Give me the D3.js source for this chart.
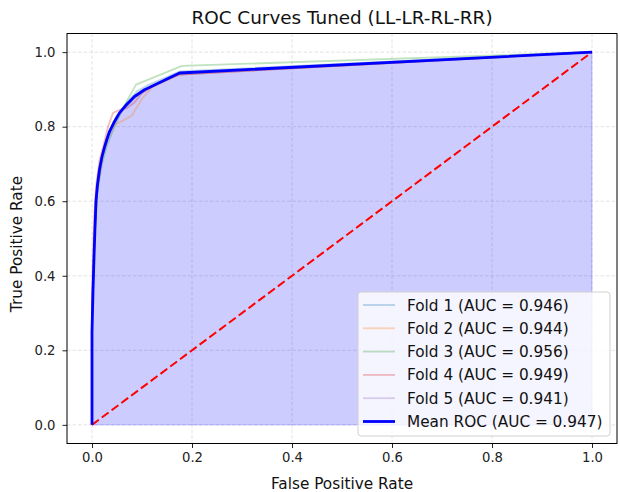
<!DOCTYPE html>
<html>
<head>
<meta charset="utf-8">
<script src="https://cdn.jsdelivr.net/npm/d3@7"></script>
<style>
  html, body { margin: 0; padding: 0; background: #fff; }
  svg { display: block; font-family: "DejaVu Sans", sans-serif; }
</style>
</head>
<body>
<svg id="chart" width="620" height="492"></svg>
<script>
// ---- data ----
const title = "ROC Curves Tuned (LL-LR-RL-RR)";
const xLabel = "False Positive Rate";
const yLabel = "True Positive Rate";
const tickValues = [0, 0.2, 0.4, 0.6, 0.8, 1.0];

const foldNames = ["Fold 1", "Fold 2", "Fold 3", "Fold 4", "Fold 5"];
const foldAUC = [0.946, 0.944, 0.956, 0.949, 0.941];
const foldColors = ["#1f77b4", "#ff7f0e", "#2ca02c", "#d62728", "#9467bd"];

const fold1Fpr = [0, 0, 0.004, 0.008, 0.015, 0.025, 0.035, 0.05, 0.07, 0.09, 0.11, 0.175, 1];
const fold1Tpr = [0, 0.3, 0.47, 0.61, 0.69, 0.75, 0.79, 0.83, 0.865, 0.895, 0.91, 0.948, 1];
const fold2Fpr = [0, 0, 0.005, 0.01, 0.02, 0.03, 0.045, 0.06, 0.08, 0.1, 0.12, 0.175, 1];
const fold2Tpr = [0, 0.28, 0.5, 0.62, 0.71, 0.77, 0.805, 0.815, 0.83, 0.875, 0.905, 0.94, 1];
const fold3Fpr = [0, 0, 0.005, 0.01, 0.02, 0.03, 0.042, 0.06, 0.088, 0.11, 0.18, 1];
const fold3Tpr = [0, 0.3, 0.5, 0.62, 0.7, 0.75, 0.79, 0.845, 0.913, 0.925, 0.963, 1];
const fold4Fpr = [0, 0, 0.004, 0.008, 0.015, 0.022, 0.032, 0.042, 0.055, 0.07, 0.085, 0.1, 0.13, 0.175, 1];
const fold4Tpr = [0, 0.35, 0.55, 0.64, 0.71, 0.745, 0.8, 0.837, 0.845, 0.85, 0.865, 0.89, 0.915, 0.94, 1];
const fold5Fpr = [0, 0, 0.005, 0.01, 0.02, 0.03, 0.045, 0.06, 0.08, 0.1, 0.13, 0.175, 1];
const fold5Tpr = [0, 0.27, 0.5, 0.63, 0.715, 0.76, 0.81, 0.84, 0.87, 0.893, 0.915, 0.94, 1];

const meanFpr = [0, 0, 0.002, 0.004, 0.006, 0.008, 0.011, 0.015, 0.02, 0.025, 0.03, 0.035, 0.045, 0.055, 0.069, 0.085, 0.105, 0.125, 0.15, 0.175, 1];
const meanTpr = [0, 0.25, 0.36, 0.45, 0.53, 0.6, 0.645, 0.685, 0.72, 0.745, 0.767, 0.787, 0.814, 0.837, 0.859, 0.881, 0.899, 0.912, 0.928, 0.944, 1];
const meanAUC = 0.947;
const chanceX = [0, 1];
const chanceY = [0, 1];

// ---- layout ----
const svg = d3.select("#chart");
const plot = { left: 67, right: 617, top: 33.5, bottom: 443.5 };
const x = d3.scaleLinear().domain([-0.05, 1.05]).range([plot.left, plot.right]);
const y = d3.scaleLinear().domain([-0.05, 1.05]).range([plot.bottom, plot.top]);

const zip = (a, b) => a.map((v, i) => [v, b[i]]);
const line = d3.line().x(d => x(d[0])).y(d => y(d[1]));

// grid
const grid = svg.append("g");
tickValues.forEach(t => {
  grid.append("line").attr("x1", x(t)).attr("x2", x(t)).attr("y1", plot.top).attr("y2", plot.bottom)
    .attr("stroke", "#b0b0b0").attr("stroke-opacity", 0.45).attr("stroke-width", 0.8).attr("stroke-dasharray", "3.5,2");
  grid.append("line").attr("y1", y(t)).attr("y2", y(t)).attr("x1", plot.left).attr("x2", plot.right)
    .attr("stroke", "#b0b0b0").attr("stroke-opacity", 0.45).attr("stroke-width", 0.8).attr("stroke-dasharray", "3.5,2");
});

// fill under mean
const meanPts = zip(meanFpr, meanTpr);
const area = d3.area().x(d => x(d[0])).y0(y(0)).y1(d => y(d[1]));
svg.append("path").datum(meanPts).attr("d", area)
  .attr("fill", "blue").attr("fill-opacity", 0.2)
  .attr("stroke", "blue").attr("stroke-opacity", 0.2).attr("stroke-width", 1);

// fold curves
const foldData = [zip(fold1Fpr, fold1Tpr), zip(fold2Fpr, fold2Tpr), zip(fold3Fpr, fold3Tpr), zip(fold4Fpr, fold4Tpr), zip(fold5Fpr, fold5Tpr)];
foldData.forEach((pts, i) => {
  svg.append("path").datum(pts).attr("d", line)
    .attr("fill", "none").attr("stroke", foldColors[i]).attr("stroke-opacity", 0.3)
    .attr("stroke-width", 1.8).attr("stroke-linejoin", "round");
});

// chance diagonal
svg.append("path").datum(zip(chanceX, chanceY)).attr("d", line)
  .attr("fill", "none").attr("stroke", "red").attr("stroke-width", 2)
  .attr("stroke-dasharray", "8.5,3.7");

// mean ROC
svg.append("path").datum(meanPts).attr("d", line)
  .attr("fill", "none").attr("stroke", "blue").attr("stroke-width", 2.8)
  .attr("stroke-linejoin", "round");

// axes
const xAxis = d3.axisBottom(x).tickValues(tickValues).tickFormat(d3.format(".1f")).tickSize(4.5).tickPadding(5);
const yAxis = d3.axisLeft(y).tickValues(tickValues).tickFormat(d3.format(".1f")).tickSize(4.5).tickPadding(7);
const gx = svg.append("g").attr("transform", `translate(0,${plot.bottom})`).call(xAxis);
const gy = svg.append("g").attr("transform", `translate(${plot.left},0)`).call(yAxis);
[gx, gy].forEach(g => {
  g.select(".domain").remove();
  g.selectAll("text").attr("font-family", "DejaVu Sans").attr("font-size", 13.2).attr("fill", "#222");
  g.selectAll("line").attr("stroke", "#222").attr("stroke-width", 1);
});

// frame
svg.append("rect").attr("x", plot.left).attr("y", plot.top)
  .attr("width", plot.right - plot.left).attr("height", plot.bottom - plot.top)
  .attr("fill", "none").attr("stroke", "#000").attr("stroke-width", 1);

// labels
svg.append("text").attr("x", (plot.left + plot.right) / 2).attr("y", 24)
  .attr("text-anchor", "middle").attr("font-size", 18.4).attr("fill", "#111").text(title);
svg.append("text").attr("x", (plot.left + plot.right) / 2).attr("y", 489)
  .attr("text-anchor", "middle").attr("font-size", 15.3).attr("fill", "#111").text(xLabel);
svg.append("text").attr("transform", `translate(21.5,244) rotate(-90)`)
  .attr("text-anchor", "middle").attr("font-size", 15.3).attr("fill", "#111").text(yLabel);

// legend
const legendItems = foldNames.map((n, i) => ({ label: `${n} (AUC = ${foldAUC[i].toFixed(3)})`, color: foldColors[i], op: 0.3, w: 1.8 }));
legendItems.push({ label: `Mean ROC (AUC = ${meanAUC.toFixed(3)})`, color: "blue", op: 1, w: 2.8 });
const lg = svg.append("g");
lg.append("rect").attr("x", 358).attr("y", 292).attr("width", 252).attr("height", 144)
  .attr("rx", 3).attr("fill", "#fff").attr("fill-opacity", 0.8)
  .attr("stroke", "#d0d0d0").attr("stroke-width", 1);
legendItems.forEach((it, i) => {
  const cy = 305 + i * 23.3;
  lg.append("line").attr("x1", 363).attr("x2", 395).attr("y1", cy).attr("y2", cy)
    .attr("stroke", it.color).attr("stroke-opacity", it.op).attr("stroke-width", it.w);
  lg.append("text").attr("x", 407).attr("y", cy).attr("dy", "0.36em")
    .attr("font-size", 15.3).attr("fill", "#111").text(it.label);
});
</script>
</body>
</html>
